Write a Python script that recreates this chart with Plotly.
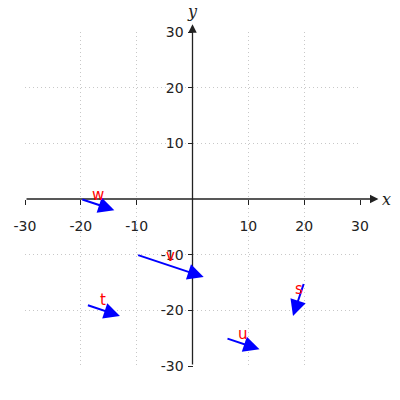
import plotly.graph_objects as go

# vectors: tail (x0, y0), components (dx, dy), label
labels = ["w", "v", "t", "u", "s"]
x0 = [-20, -10, -19, 6, 20]
y0 = [0, -10, -19, -25, -15]
dx = [6, 12, 6, 6, -2]
dy = [-2, -4, -2, -2, -6]

tickvals = [-30, -20, -10, 10, 20, 30]
ticktext = ["-30", "-20", "-10", "10", "20", "30"]

fig = go.Figure()
fig.add_trace(go.Scatter(x=[None], y=[None], showlegend=False, hoverinfo="skip"))

annotations = []
# axis lines with arrows
annotations.append(dict(x=33.3, y=0, ax=-30, ay=0, xref="x", yref="y", axref="x", ayref="y",
                        text="", showarrow=True, arrowhead=2, arrowsize=1.3, arrowwidth=1.3,
                        arrowcolor="#222222", standoff=0))
annotations.append(dict(x=0, y=31.4, ax=0, ay=-30, xref="x", yref="y", axref="x", ayref="y",
                        text="", showarrow=True, arrowhead=2, arrowsize=1.3, arrowwidth=1.3,
                        arrowcolor="#222222", standoff=0))
annotations.append(dict(x=1.078, y=0.5, xref="paper", yref="paper", text="<i>x</i>", showarrow=False,
                        xanchor="center", yanchor="middle",
                        font=dict(family="DejaVu Serif", size=16, color="#222222")))
annotations.append(dict(x=0.5, y=1.06, xref="paper", yref="paper", text="<i>y</i>", showarrow=False,
                        xanchor="center", yanchor="middle",
                        font=dict(family="DejaVu Serif", size=16, color="#222222")))

for lab, a, b, u, v in zip(labels, x0, y0, dx, dy):
    annotations.append(dict(x=a + u, y=b + v, ax=a, ay=b, xref="x", yref="y", axref="x", ayref="y",
                            text="", showarrow=True, arrowhead=2, arrowsize=1.6, arrowwidth=2,
                            arrowcolor="#0000ff", standoff=0))
    annotations.append(dict(x=a + u / 2, y=b + v / 2, xref="x", yref="y", text=lab, showarrow=False,
                            xanchor="center", yanchor="bottom", yshift=-1,
                            font=dict(family="DejaVu Sans", size=15, color="#ff0000")))

axis_common = dict(range=[-30, 30], tickvals=tickvals, ticktext=ticktext, showgrid=True,
                   gridcolor="#c8c8c8", griddash="1px,3px", gridwidth=1, zeroline=False,
                   showline=False, ticks="outside", ticklen=5, tickcolor="#222222",
                   tickfont=dict(family="DejaVu Sans", size=14, color="#222222"),
                   anchor="free", position=0.5, automargin=False)

fig.update_layout(
    width=400, height=400,
    margin=dict(l=25, r=40, t=32, b=34),
    paper_bgcolor="white", plot_bgcolor="white",
    xaxis=dict(axis_common, ticklabelstandoff=9),
    yaxis=dict(axis_common, ticklabelstandoff=1),
    annotations=annotations,
    showlegend=False,
)

fig.write_html("out.html", config={"displayModeBar": False},
               post_script="document.body.style.margin='0';document.body.style.overflow='hidden';")
